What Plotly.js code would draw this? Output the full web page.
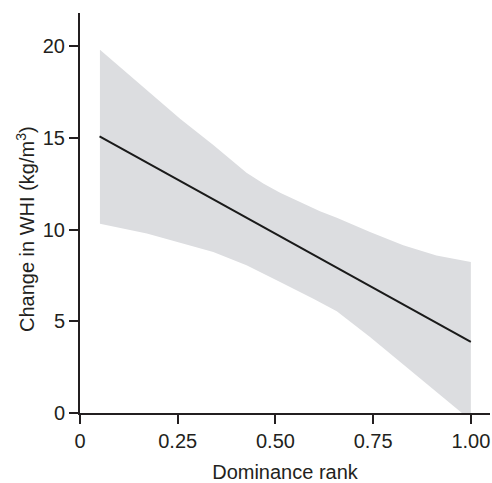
<!DOCTYPE html>
<html><head><meta charset="utf-8">
<script src="https://cdn.plot.ly/plotly-3.0.1.min.js"></script>
<style>html,body{margin:0;padding:0;background:#fff}#c{width:492px;height:483px}</style>
</head><body><div id="c"></div>
<script>
// Regression line
const lineX = [0.05, 1.0];
const lineY = [15.08, 3.87];
// Upper confidence bound
const upperX = [0.051, 0.153, 0.256, 0.341, 0.426, 0.47, 0.512, 0.614, 0.657, 0.742, 0.827, 0.912, 1.0];
const upperY = [19.8, 17.95, 16.04, 14.6, 13.1, 12.5, 12.0, 11.0, 10.64, 9.86, 9.14, 8.59, 8.23];
// Lower confidence bound
const lowerX = [0.051, 0.171, 0.256, 0.341, 0.426, 0.512, 0.597, 0.657, 0.742, 0.827, 0.912, 1.0];
const lowerY = [10.32, 9.78, 9.26, 8.77, 8.05, 7.14, 6.23, 5.55, 4.14, 2.6, 1.15, -0.4];
const xTickVals = [0, 0.25, 0.5, 0.75, 1.0];
const xTickText = ["0", "0.25", "0.50", "0.75", "1.00"];
const yTickVals = [0, 5, 10, 15, 20];

const bandX = upperX.concat(lowerX.slice().reverse());
const bandY = upperY.concat(lowerY.slice().reverse());

const traces = [
  {x: bandX, y: bandY, type: 'scatter', mode: 'lines', fill: 'toself',
   fillcolor: '#dcdde0', line: {width: 0, color: 'rgba(0,0,0,0)'}, hoverinfo: 'skip'},
  {x: lineX, y: lineY, type: 'scatter', mode: 'lines', line: {color: '#1a1a1a', width: 2}}
];
const font = {family: 'Liberation Sans, Arial, sans-serif', size: 20, color: '#231f20'};
const layout = {
  width: 492, height: 483, showlegend: false,
  paper_bgcolor: '#fff', plot_bgcolor: '#fff',
  margin: {l: 80, r: 2, t: 13, b: 70},
  font: font,
  xaxis: {range: [0, 1.049], tickvals: xTickVals, ticktext: xTickText,
    showgrid: false, zeroline: false, showline: true, linecolor: '#231f20', linewidth: 2,
    ticks: 'outside', ticklen: 9, tickwidth: 2, tickcolor: '#231f20',
    tickfont: {size: 20}, title: {text: 'Dominance rank', font: {size: 20}, standoff: 20}},
  yaxis: {range: [0, 21.8], tickvals: yTickVals,
    showgrid: false, zeroline: false, showline: true, linecolor: '#231f20', linewidth: 2,
    ticks: 'outside', ticklen: 9, tickwidth: 2, tickcolor: '#231f20',
    tickfont: {size: 20}},
  annotations: [{text: 'Change in WHI (kg/m<sup>3</sup>)', textangle: -90,
    xref: 'paper', yref: 'paper', x: (25 - 80) / 410, y: (413 - 229) / 400,
    xanchor: 'center', yanchor: 'middle', showarrow: false, font: {size: 20}}]
};
Plotly.newPlot('c', traces, layout, {displayModeBar: false, staticPlot: true});
</script></body></html>
